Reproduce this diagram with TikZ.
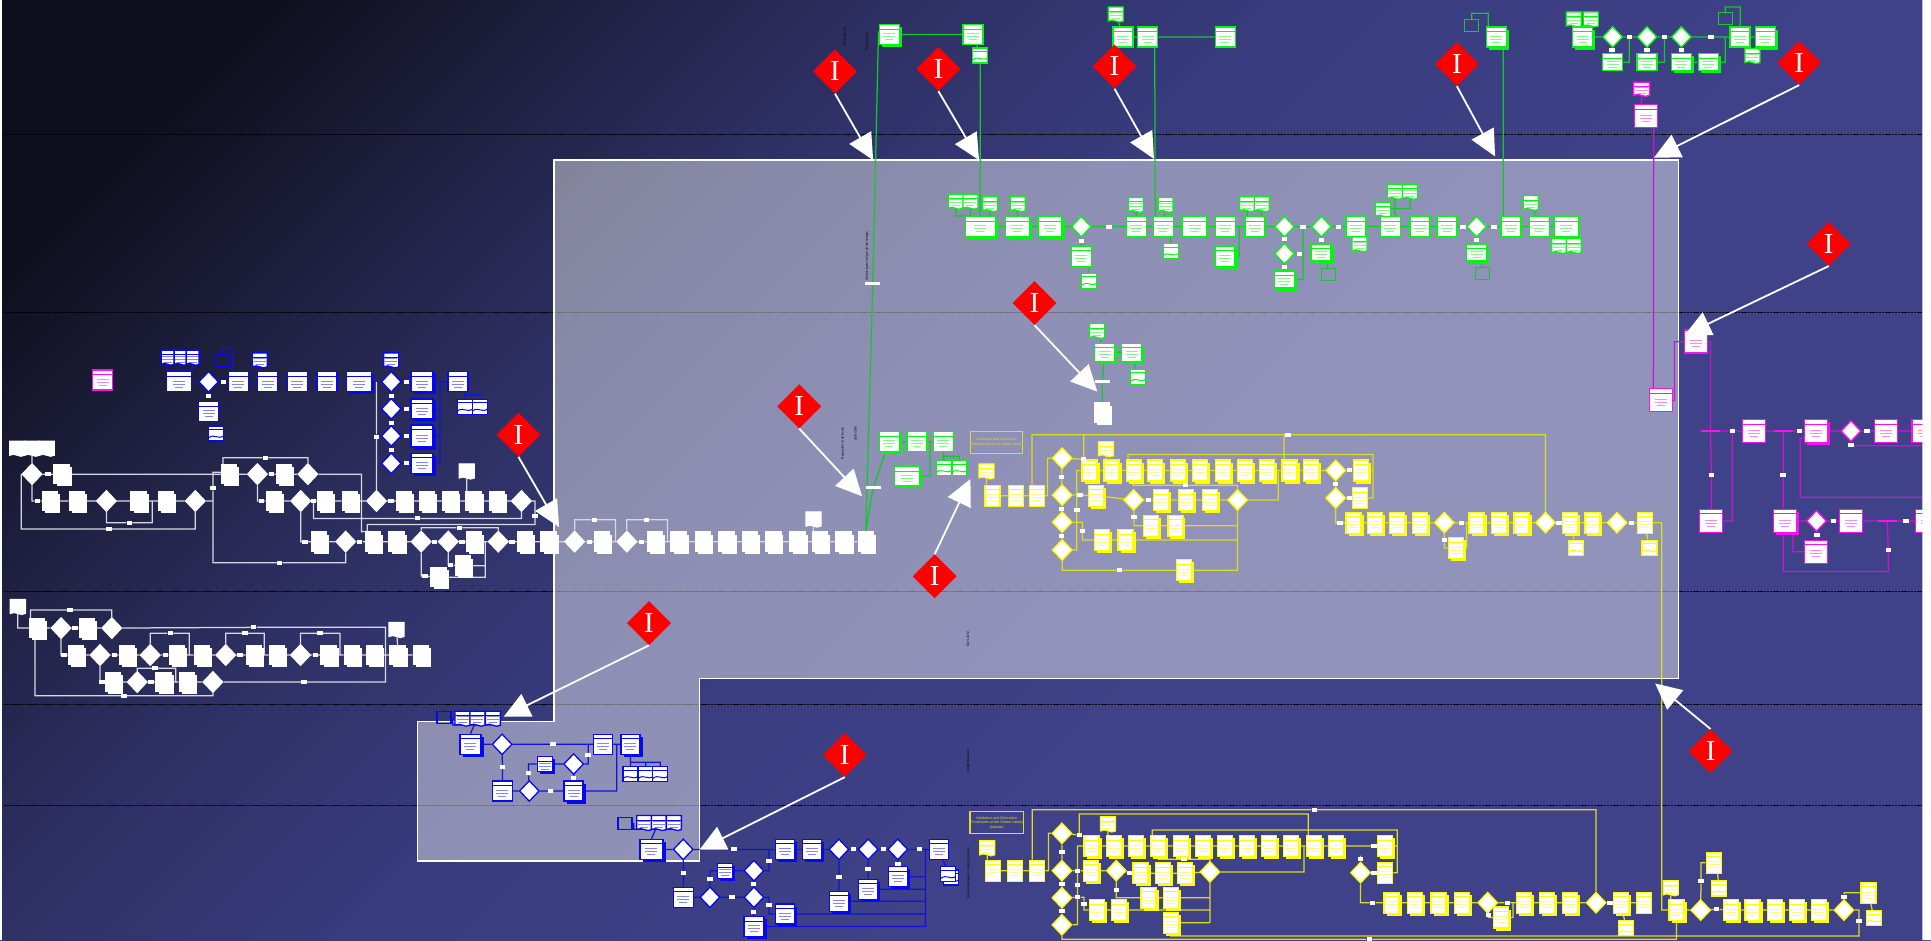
\documentclass[tikz,border=0pt]{standalone}
\usepackage{fontspec}
\setmainfont{Liberation Sans}
\newfontfamily\markfont{Liberation Serif}
\usetikzlibrary{arrows.meta, calc, shadows, shapes.geometric, shapes.symbols}
\definecolor{flowgreen}{HTML}{00F810}
\definecolor{flowblue}{HTML}{0808F0}
\definecolor{flowyellow}{HTML}{FFFF00}
\definecolor{flowpink}{HTML}{FF10F0}
\definecolor{wiregreen}{HTML}{14C82C}
\definecolor{wireblue}{HTML}{1212D8}
\definecolor{wireyellow}{HTML}{DCDC20}
\definecolor{wirepink}{HTML}{CC14D0}
\definecolor{wirewhite}{HTML}{D8D8E4}
\definecolor{bga}{HTML}{0E0E1C}
\definecolor{bgb}{HTML}{1F2040}
\definecolor{bgc}{HTML}{2E3064}
\definecolor{bgd}{HTML}{383B7C}
\definecolor{bge}{HTML}{3F4288}
\pgfdeclarelayer{wires}
\pgfsetlayers{wires,main}
\pgfdeclarehorizontalshading{bgfade}{100bp}{color(0bp)=(bga); color(21bp)=(bga); color(29bp)=(bgb); color(37bp)=(bgc); color(46bp)=(bgd); color(60bp)=(bge); color(100bp)=(bge)}
\newcommand{\boxface}[1]{%
  \draw[#1,line width=.9pt] ([yshift=-4.5pt]path picture bounding box.north west)
    -- ([yshift=-4.5pt]path picture bounding box.north east);
  \begin{scope}[shift={(path picture bounding box.center)}]
    \draw[#1!50,line width=.5pt] (-6pt,1pt) -- (6pt,1pt) (-6pt,-2pt) -- (6pt,-2pt) (-4pt,-5pt) -- (4pt,-5pt);
  \end{scope}}
\newcommand{\waveface}[1]{%
  \draw[#1,line width=.9pt] ([yshift=-3.5pt]path picture bounding box.north west)
    -- ([yshift=-3.5pt]path picture bounding box.north east);
  \draw[#1,line width=1pt] ([yshift=3pt]path picture bounding box.south west)
    .. controls +(6pt,5pt) and +(-6pt,-4pt) .. ([yshift=5pt]path picture bounding box.south east);}
\newcommand{\setnodes}[2]{\foreach \n/\x/\y in {#2} \node[#1] (\n) at (\x,\y) {};}
\newcommand{\setwires}[2]{\begin{pgfonlayer}{wires}\draw[wire=#1] #2;\end{pgfonlayer}}
\tikzset{
  box/.style={rectangle, draw=#1, fill=white, line width=1.3pt, inner sep=0pt,
    minimum width=20pt, minimum height=20pt, path picture={\boxface{#1}}},
  sbox/.style={box=#1, drop shadow={shadow xshift=2.6pt, shadow yshift=-2.6pt, opacity=1, fill=#1}},
  doc/.style={tape, tape bend top=none, tape bend bottom=out and in, tape bend height=2pt,
    draw=#1, fill=white, line width=1.3pt, inner sep=0pt, minimum width=15pt, minimum height=15pt,
    path picture={\boxface{#1}}},
  wave/.style={rectangle, draw=#1, fill=white, line width=1.3pt, inner sep=0pt,
    minimum width=15pt, minimum height=15pt, path picture={\waveface{#1}}},
  dia/.style={diamond, draw=#1, fill=white, line width=1.3pt, inner sep=0pt,
    minimum width=20pt, minimum height=21pt},
  bin/.style={rectangle, draw=#1, line width=1.1pt, inner sep=0pt, minimum width=14pt, minimum height=12pt},
  bar/.style={rectangle, fill=#1, inner sep=0pt, minimum width=19pt, minimum height=1.6pt},
  tag/.style={rectangle, fill=white, inner sep=0pt, minimum width=5.5pt, minimum height=4pt},
  wire/.style={draw=#1, line width=1.25pt},
  wnode/.style={sbox=white, minimum width=15pt, minimum height=19pt},
  ynode/.style={sbox=flowyellow, minimum width=15pt, minimum height=21pt},
  yplain/.style={box=flowyellow, minimum width=15pt, minimum height=21pt},
  ttl/.style={rectangle, draw=wireyellow, line width=1.2pt, text=wireyellow, align=center,
    font=\fontsize{3.7}{4.4}\selectfont, inner sep=0pt, minimum width=52pt, minimum height=22pt},
  vlabel/.style={rotate=90, text=black, font=\fontsize{3.2}{3.2}\selectfont, inner sep=0pt},
  imark/.style={diamond, fill=red, text=white, inner sep=0pt, minimum width=44pt, minimum height=44pt,
    font=\markfont\fontsize{29}{29}\selectfont},
  pointer/.style={-{Triangle[length=26pt,width=25pt]}, draw=white, fill=white, line width=1.8pt},
  lane/.style={draw=black, line width=1.1pt, dash pattern=on 2.4pt off .8pt}
}
\begin{document}
\begin{tikzpicture}[x=1.2315pt,y=-1.2315pt]
  \useasboundingbox (0,0) rectangle (1568,763.3);
  \begin{pgfonlayer}{wires}
    \shade[shading=bgfade, shading angle=-45] (-2,-2) rectangle (1570,766);
    \foreach \y in {109,254,480,572,654} \draw[lane] (3,\y) -- (1561,\y);
    \draw[draw=white, fill=white, fill opacity=.43, line width=1.6pt]
      (450,130) -- (1363,130) -- (1363,551) -- (568,551) -- (568,699) -- (339,699) -- (339,586) -- (450,586) -- cycle;
  \end{pgfonlayer}

  \setnodes{sbox=flowgreen}{ga/722/28}
  \setnodes{box=flowgreen}{gb/790/28,ge/912/30,gf/932/30,gg/995/30}
  \setnodes{wave=flowgreen}{gc/796/45}
  \setnodes{doc=flowgreen}{gd/906/11}
  \setnodes{sbox=flowgreen,minimum width=30pt}{gr1/796/184}
  \setnodes{sbox=flowgreen,minimum width=24pt}{gr2/826/184,gr3/852.6/184}
  \setnodes{box=flowgreen}{gr4/922.8/184,gr5/944.5/184,gr7/995/184,gr8/1019/184,gr9/1101/184,gr10/1129/184,gr11/1153/184,gr12/1175/184,gr13/1227/184,gr14/1250/184}
  \setnodes{box=flowgreen,minimum width=25pt}{gr6/970/184,gr15/1272/184}
  \setnodes{dia=flowgreen}{gq1/878/184,gq2/1043/184,gq3/1073/184,gq4/1199/184,gq5/1043/206}
  \setnodes{tag}{rt1/900.7/184,rt2/1058/184,rt3/1087/184,rt4/1188/184,rt5/1213/184,gv1/878/196,gv2/1043/194,gv3/1055/206,gv4/1043/216.5,gv5/1073/195,gv6/1199/195}
  \setnodes{doc=flowgreen}{gt1/776/163,gt2/788/163,gt3/804/165,gt4/826.5/165,gt5/922.5/165.6,gt6/946.5/165.6,gt7/1012.7/165,gt8/1024.6/165,gt9/1132.7/155,gt10/1145/155,gt11/1123/169.4,gt12/1104/197.6,gt13/1243/164,gt14/1266/199,gt15/1278/199}
  \setnodes{box=flowgreen}{gu1/878/208}
  \setnodes{sbox=flowgreen}{gu4/994.7/208}
  \setnodes{sbox=flowgreen,minimum height=17pt}{gu5/1043/227,gu6/1072.7/205,gu7/1199/205}
  \setnodes{wave=flowgreen}{gu2/884.5/228,gu3/950.6/204}
  \setnodes{bin=wiregreen}{gb1/1078.5/223,gb2/1204/222,gb3/1195/21,hbin/1401/15}
  \setnodes{sbox=flowgreen}{gx/1215/30,gy1/722/358.6}
  \setnodes{box=flowgreen}{gy2/744.5/358.6,gy3/766/358.6}
  \setnodes{sbox=flowgreen,minimum width=25pt,minimum height=19pt}{gy4/736.6/386.5}
  \setnodes{wave=flowgreen}{gy5/766.5/380,gy6/779/380,gz4/924/306}
  \setnodes{doc=flowgreen}{gz1/891/268}
  \setnodes{sbox=flowgreen,minimum height=18pt}{gz2/897/286,gz3/919/286}
  \setnodes{tag,minimum width=15pt,minimum height=3pt}{gz5/895/310,gs1/708.7/230.6,gs2/709/396}
  \setnodes{wnode}{gz6/895/335}
  \setnodes{doc=flowgreen}{hd1/1278/15,hd2/1291.7/15,hd3/1423/44.7}
  \setnodes{sbox=flowgreen}{hb1/1285/30,hb3/1433.5/30}
  \setnodes{box=flowgreen}{hb2/1413/30}
  \setnodes{dia=flowgreen}{hq1/1309.5/30,hq2/1337.4/30,hq3/1365.3/30}
  \setnodes{tag}{ht1/1323/30,ht2/1351.5/30,ht3/1389.4/30,hv1/1309/40.6,hv2/1337.4/40.6,hv3/1365.3/40.6}
  \setnodes{box=flowgreen,minimum height=17pt}{hc1/1309.5/50.6,hc2/1337.4/50.6}
  \setnodes{sbox=flowgreen,minimum height=17pt}{hc3/1365.3/50.6,hc4/1387.2/50.6}

  \setwires{wiregreen}{(ga)--(gb) (gb)--(gc) (gd)--(ge)--(gf)--(gg)
    (gc)--(gc |- gr1.north) ([xshift=7pt]gf.south)--([xshift=-8pt]gr5.north)
    (gr1)--(gr2)--(gr3)--(gq1)--(rt1)--(gr4)--(gr5)--(gr6)--(gr7)--(gr8)--(gq2)--(rt2)--(gq3)--(rt3)--(gr9)--(gr10)--(gr11)--(gr12)--(rt4)--(gq4)--(rt5)--(gr13)--(gr14)--(gr15)
    (gt1.south) |- (gt2 |- gr1.north) (gt2)--(gt2 |- gr1.north) (gt3)--(gt3 |- gr1.north) (gt4)--(gr2) (gt5)--(gr4) (gt6)--(gr5)
    (gt7)--(gt7 |- gr8.north) (gt8)--(gt8 |- gr8.north) (gt9)--(gt9 |- gr10.north) (gt10) |- (gt9 |- gt11) (gt11)--(gt9 |- gt11)
    (gr9)--(gt12) (gt13)--(gr14) (gt14)--(gt14 |- gr15.south) (gt15)--(gt15 |- gr15.south)
    (gq1)--(gv1)--(gu1) ([xshift=7pt]gu1.south)--(gu2) (gu3)--(gu3 |- gr5.south)
    (gu4) -| ($(gr7)!.47!(gr8)$) (gq2)--(gv2)--(gq5)--(gv4)--(gu5) (gq5)--(gv3) (gu5) -| (rt2) (gv3)--(rt2 |- gv3)
    (gq3)--(gv5)--(gu6) ([xshift=6pt]gu6.south)--(gb1) (gq4)--(gv6)--(gu7) ([xshift=5pt]gu7.south)--(gb2)
    (gb3.north) -- ++(0,-5) -| ([xshift=-8pt]gx.north) ([xshift=7pt]gx.south)--([xshift=7pt]gx.south |- rt5)
    (gy1)--(gy2)--(gy3) (gy4) -| ($(gy2)!.5!(gy3)$) (gy3)--(gy3 |- gy5.north) (gy5.north) -- ++(0,-3) -| (gy6.north)
    (gz1)--(gz2) (gz2)--(gz3)--(gz4) (gz2)--(gz5)--(gz6)
    (hb1)--(hq1)--(ht1)--(hq2)--(ht2)--(hq3)--(ht3)--(hb2)--(hb3) (hb2)--(hd3) (hd1)--(hb1) (hd2)--(hb1)
    (hq1)--(hv1)--(hc1) (hq2)--(hv2)--(hc2) (hq3)--(hv3)--(hc3) (hc3)--(hc4)
    (hc1) -| (ht1) (hc2) -| (ht2) (hc4) -| (hbin |- ht3) (hbin.north) -- ++(0,-4) -| (hb2.north)}

  \setnodes{box=flowblue}{bb2/193.5/310,bb3/217.3/310,bb4/241.4/310,bb5/265.5/310,bb8/371.8/310,bb12/169.4/334.3}
  \setnodes{box=flowblue,minimum width=25pt}{bb1/145.3/310}
  \setnodes{sbox=flowblue,minimum width=25pt}{bb6/291.5/310}
  \setnodes{sbox=flowblue,minimum width=22pt}{bb7/342.6/310,bb9/342.6/332,bb11/342.6/376.3}
  \setnodes{sbox=flowblue,minimum width=22pt,minimum height=22pt}{bb10/342.6/354}
  \setnodes{dia=flowblue}{bq1/169.4/310,bq2/317.7/310,bq3/317.7/332,bq4/317.7/354,bq5/317.7/376.3}
  \setnodes{doc=flowblue,minimum width=13pt}{bd1/136.1/289.7,bd2/146.7/289.7,bd3/156.4/289.7}
  \setnodes{doc=flowblue}{bd4/211/291.8,bd5/317.7/291.8}
  \setnodes{wave=flowblue}{bw1/377.5/330.2,bw2/389.7/330.2,bw3/175.4/352}
  \setnodes{bin=flowblue}{bbin/180.8/292.4}
  \setnodes{tag}{bt1/181.3/310,bt2/169.4/321.6,bt3/330/310,bt4/330/332,bt5/330/354,bt6/330/376.3,bt7/317.7/321.6,bt8/317.7/343.2,bt9/317.7/365}
  \coordinate (bbus) at ($(bb7)!.5!(bb8)$);
  \setwires{wireblue}{(bb1)--(bq1)--(bt1)--(bb2)--(bb3)--(bb4)--(bb5)--(bb6)--(bq2)--(bt3)--(bb7)--(bb8)
    (bq1)--(bt2)--(bb12) ([xshift=7pt]bb12.south)--(bw3) (bd5)--(bq2)--(bt7)--(bq3)--(bt8)--(bq4)--(bt9)--(bq5)
    (bq3)--(bt4)--(bb9) (bq4)--(bt5)--(bb10) (bq5)--(bt6)--(bb11)
    (bb11) -| (bbus) (bb10)--(bbus |- bb10) (bb9)--(bbus |- bb9)
    (bd1.south) |- (bd2 |- bb1.north) (bd3.south) |- (bd2 |- bb1.north) (bd2)--(bd2 |- bb1.north)
    (bbin.north) -- ++(0,-5) -| ([xshift=-6pt]bb2.north) (bd4)--(bd4 |- bb3.north)
    (bb8.south -| bw1)--(bw1.north) (bw1.north) -- ++(0,-3) -| (bw2.north)}

  \setnodes{sbox=flowblue,minimum width=21pt}{ub1/382/604.4}
  \setnodes{box=flowblue,minimum width=19pt}{ub2/489.8/604.4}
  \setnodes{sbox=flowblue,minimum width=19pt}{ub3/511.9/604.4,ub6/465.8/642.3}
  \setnodes{sbox=flowblue,minimum width=15pt,minimum height=15pt}{ub4/442.3/620.4}
  \setnodes{box=flowblue}{ub5/408/642.3}
  \setnodes{dia=flowblue}{uq1/407.7/604.4,uq2/465.8/620.4,uq3/429.8/642.3}
  \setnodes{doc=flowblue}{ud1/375.6/582.8,ud2/387.7/582.8,ud3/400.2/582.8}
  \setnodes{bin=flowblue}{ubin1/360.5/582.8}
  \setnodes{wave=flowblue}{uw1/511.9/628.5,uw2/524.3/628.5,uw3/536.2/628.5}
  \setnodes{tag}{ut1/448.9/604.4,ut2/477.6/613,ut3/465.8/631.5,ut4/429.2/628,ut5/408/623,ut6/447.2/642.3}
  \setwires{wireblue}{(ub1)--(uq1)--(ut1)--(ub2)--(ub3) (uq1)--(ut5)--(ub5)--(uq3)--(ut6)--(ub6)
    (uq3)--(ut4) |- (ub4) (ub4)--(uq2) (uq2) -| (ut2) (ut2) |- (ub2) (uq2)--(ut3)--(ub6)
    (ub6) -| ($(ub2)!.5!(ub3)$) (ub3)--(uw1) (uw1.north) -- ++(0,-3) -| (uw3.north) (uw2.north) -- ++(0,-3)
    (ubin1.east) -- ++(1,0) |- (ud3.south) (ud1)--(ud1 |- ud3.south) (ud2)--(ub1.north)}

  \setnodes{sbox=flowblue,minimum width=23pt}{vb1/529/689.7}
  \setnodes{sbox=flowblue,minimum width=19pt}{vb2/637.2/689.7,vb3/659.2/689.7,vb7/637.2/742.2,vb9/681.2/731.9,vb10/705/722,vb11/729/711.9}
  \setnodes{box=flowblue,minimum width=19pt}{vb4/762.7/689.7}
  \setnodes{sbox=flowblue,minimum width=15pt,minimum height=15pt}{vb5/588.7/707}
  \setnodes{box=flowblue}{vb6/554.8/728.6}
  \setnodes{sbox=flowblue}{vb8/612.2/752.4}
  \setnodes{dia=flowblue}{vq1/554.8/689.7,vq2/681.2/689.7,vq3/705/689.7,vq4/729/689.7,vq5/612.2/707,vq6/576.5/728.6,vq7/612.2/728.6}
  \setnodes{doc=flowblue}{vd1/523.2/667.5,vd2/535/667.5,vd3/547.2/667.5}
  \setnodes{bin=flowblue}{vbin/507.5/668.6}
  \setnodes{wave=flowblue}{vw2/772.5/712.5,vw1/770/709.7}
  \setnodes{tag}{vt1/596.2/689.7,vt2/693.1/689.7,vt3/717.5/689.7,vt4/746.5/689.7,vt5/624.4/698.9,vt6/576.5/713.5,vt7/612/717.5,vt8/555/709,vt9/594.2/728.6,vt10/624.4/735,vt11/612/740.3,vt12/681.2/711.9,vt13/705/706,vt14/729/701.6}
  \coordinate (vbus) at ($(vt4)+(5,0)$);
  \setwires{wireblue}{(vb1)--(vq1)--(vt1)--(vb2)--(vb3)--(vq2)--(vt2)--(vq3)--(vt3)--(vq4)--(vt4)--(vb4)
    (vq1)--(vt8)--(vb6)--(vq6)--(vt9)--(vq7) (vq6)--(vt6) (vt6) |- (vb5) (vb5)--(vq5) (vq5) -| (vt5) (vt5) |- (vb2)
    (vq5)--(vt7)--(vq7) (vq7) -| (vt10) (vt10) |- (vb7) (vq7)--(vt11)--(vb8)
    (vq2)--(vt12)--(vb9) (vq3)--(vt13)--(vb10) (vq4)--(vt14)--(vb11)
    (vb8) -| (vbus) (vb7)--(vbus |- vb7) (vb9)--(vbus |- vb9) (vb10)--(vbus |- vb10) (vb11)--(vbus |- vb11)
    (vb4)--(vw1) (vbin.east) -- ++(1,0) |- (vd3.south) (vd1)--(vd1 |- vd3.south) (vd2)--(vb1.north)}

  \setnodes{doc=white,minimum width=15pt}{wd1a/14/363.5,wd1b/26/363.5,wd1c/38/363.5,wd2/379/382,wd3/660.6/421,ld1/14.5/492,ld2/322/510.7}
  \setnodes{wnode}{wb1/50/385,wb2/40.6/406.8,wb3/62.4/406.8,wb4/112.5/406.8,wb5/134.9/406.8,wb6/186/385,wb7/230.6/385,wb8/222.4/406.8,wb9/264/406.8,wb10/284/406.8,wb11/328/406.8,wb12/347/406.8,wb13/365.7/406.8,wb14/384.6/406.8,wb15/403.7/406.8,wb20/356/468.8,wb21/376/459.3,wr1/259/439.8,wr2/303/439.8,wr3/322/439.8,wr4/385/439.8,wr5/426.3/439.8,wr6/445.5/439.8,wr7/489/439.8,wr8/532/439.8,wr9/551/439.8,wr10/571/439.8,wr11/590/439.8,wr12/609/439.8,wr13/628/439.8,wr14/647.6/439.8,wr15/666/439.8,wr16/685/439.8,wz/703/439.8,lb1/30/510,lb2/70.5/510,lc1/61.5/531.9,lc2/103/531.9,lc3/144/531.9,lc4/163.9/531.9,lc5/206/531.9,lc6/224.8/531.9,lc7/266.8/531.9,lc8/285.7/531.9,lc9/304/531.9,lc10/322.8/531.9,lc11/341.6/531.9,le1/92/553.8,le2/132.8/553.8,le3/151.7/553.8}
  \setnodes{dia=white}{wq1/26/385,wq2/86.4/406.8,wq3/158.6/406.8,wq4/209/385,wq5/250/385,wq6/244.2/406.8,wq7/305.7/406.8,wq8/423.4/406.8,wq9/280.7/439.8,wq10/342/439.8,wq11/364/439.8,wq12/404.6/439.8,wq13/466.6/439.8,wq14/509/439.8,lq1/49.6/510,lq2/90.8/510,lq3/81.2/531.9,lq4/122/531.9,lq5/183.3/531.9,lq6/172.9/553.8,lq7/244/531.9,lq8/111.4/553.8}
  \setnodes{tag}{wt1/39/385,wt2/30.5/406.8,wt3/105/424.4,wt4/88.5/429.5,wt5/173/396.5,wt6/227/457,wt7/220.4/385,wt8/215.5/371.6,wt9/212.3/406.8,wt10/254.6/406.8,wt11/317.6/406.8,wt12/339/421,wt13/434.5/419,wt14/247.7/439.8,wt15/292/439.8,wt16/353/439.8,wt17/375/439.8,wt18/415.6/439.8,wt19/478.5/439.8,wt20/521/439.8,wt21/373/428.5,wt22/345/467.7,wt23/366/458.8,wt24/482.6/422,wt25/525/422,wtv/305.7/354.6,lt1/61/510,lt2/57/495.3,lt3/206/509.4,lt4/247/553.8,lt5/52/531.9,lt6/92.8/531.9,lt7/134.3/531.9,lt8/195/531.9,lt9/256/531.9,lt10/138.3/514.3,lt11/199/514.3,lt12/260/514.3,lt13/83/553.8,lt14/122.7/553.8,lt15/126/542.7,lt16/100.6/564.9}
  \setwires{wiregreen}{([yshift=3pt]ga.west)--(gs1)--(wz.north) (gy1)--(gs2)--(wz.north)}
  \setwires{wirewhite}{(wd1b)--(wq1) (wq1)--(wt1)--(wb1)--(wb6)--(wq4)--(wt7)--(wb7)--(wq5)
    (wq1) |- (wt2) (wt2)--(wb2)--(wb3)--(wq2)--(wb4)--(wb5)--(wq3)
    (wq2.south) |- (wt3) (wt3) -| ($(wb4)!.5!(wb5)$) (wq1.west) |- (wt4) (wt4) -| (wq3.south)
    (wq3) -| (wt5) (wt5) |- ([yshift=2pt]wb6.west) (wt5) |- (wt6) (wt6) -| (wq9.south)
    ([xshift=-6pt]wb6.north) |- (wt8) (wt8) -| (wq5.north)
    (wq5) -| ($(wq5)+(43.5,46.7)$) -- ([xshift=-2pt]wr2.north)
    (wq4.south) |- (wt9) (wt9)--(wb8)--(wq6)--(wt10)--(wb9)--(wb10)--(wq7)--(wt11)--(wb11)--(wb12)--(wb13)--(wb14)--(wb15)--(wq8)
    (wt10) |- (wt12) (wt12) -| (wq8.south) (wq8) -| (wt13) (wt13) -- ++(0,6.8) -| ([xshift=-6pt]wr2.north)
    (wd2)--(wd2 |- wb14.north) (wq7)--(wtv)--(wtv |- bb6)
    (wq6) |- (wt14) (wt14)--(wr1)--(wq9)--(wt15)--(wr2)--(wr3)--(wq10)--(wt16)--(wq11)--(wt17)--(wr4)--(wq12)--(wt18)--(wr5)--(wr6)--(wq13)--(wt19)--(wr7)--(wq14)--(wt20)--(wr8)--(wr9)--(wr10)--(wr11)--(wr12)--(wr13)--(wr14)--(wr15)--(wr16)--(wz)
    (wq10.north) |- (wt21) (wt21) -| (wq12.north) (wq10.south) |- (wt22) (wt22)--(wb20) (wq11.south) |- (wt23) (wt23)--(wb21)
    (wb20) -| ($(wr4)+(9,0)$) (wb21)--($(wr4)+(9,19.5)$)
    (wq13.north) |- (wt24) (wt24) -| ($(wr7)+(10.7,0)$) (wq14.north) |- (wt25) (wt25) -| ($(wr8)+(10,0)$)
    (wd3)--(wd3 |- wr15.north)
    (ld1) |- (lb1) (lb1)--(lq1)--(lt1)--(lb2)--(lq2)--(lt3) ([xshift=-6.5pt]lb1.north) |- (lt2) (lt2) -| (lq2.north)
    (lt3) -| ($(lt4)+(66,0)$) -- (lt4)--(lq6) (lq1.south) |- (lt5)
    (lt5)--(lc1)--(lq3)--(lt6)--(lc2)--(lq4)--(lt7)--(lc3)--(lc4)--(lq5)--(lt8)--(lc5)--(lc6)--(lq7)--(lt9)--(lc7)--(lc8)--(lc9)--(lc10)--(lc11)
    (lq4.north) |- (lt10) (lt10) -| ($(lc3)+(9.7,0)$) (lq5.north) |- (lt11) (lt11) -| ($(lc5)+(8.6,0)$) (lq7.north) |- (lt12) (lt12) -| ($(lc7)+(9.2,0)$)
    (ld2)--(lc10.north) (lq3.south) |- (lt13) (lt13)--(le1)--(lq8)--(lt14)--(le2)--(le3)--(lq6)
    (lq8.north) |- (lt15) (lt15) -| ($(le2)+(9.9,0)$) ([xshift=-2pt]lb1.south) |- (lt16) (lt16) -| (lq6.south)}

  \node[ttl] (yl) at (809,359) {Validation and Derivation\\Procedures at the Study Level};
  \node[ttl] (zl) at (809.3,668) {Validation and Derivation\\Procedures at the Global Library\\(tabular)};
  \setnodes{doc=flowyellow}{yd1/801/382,yd2/898/364,zd1/801.7/688,zd2/899.7/668.6,zd3/1356.6/720.5}
  \setnodes{yplain}{yb1/806/402.5,yb2/825/402.5,yb3/842/402.5,y22/1104.3/404.4,y32/1335.5/424.4,za1/806.3/707,za2/824.4/707,za3/842.3/707,z23/1124.8/708.6,z32/1335/733,z35/1391.5/700.5,z41/1517.3/725}
  \setnodes{ynode}{y1/884.6/382,y2/902.5/382,y3/920.8/382,y4/938/382,y5/956.4/382,y6/974.4/382,y7/993/382,y8/1010.7/382,y9/1029/382,y10/1047/382,y11/1064.3/382,y12/1105/382,y13/890/402.5,y14/942.5/406,y15/962.8/406,y16/982.5/406,y17/934.7/427,y18/954.4/427,y19/894.6/438.5,y20/914/438.5,y21/961.6/463,y23/1099/424.4,y24/1116.5/424.4,y25/1134.5/424.4,y26/1152.8/424.4,y27/1199/424.4,y28/1217/424.4,y29/1235.4/424.4,y30/1275/424.4,y31/1293/424.4,y33/1182/445}
  \setnodes{ynode}{z1/886.4/687,z2/904.6/687,z3/922.4/687,z4/940.5/687,z5/958.7/687,z6/977/687,z7/994.7/687,z8/1012.8/687,z9/1030.7/687,z10/1048.3/687,z11/1066.7/687,z12/1084.8/687,z13/1124.8/687,z14/886/707,z15/926.2/709,z16/944.3/709,z17/962.2/709,z18/932.7/729,z19/950.6/729,z20/890.5/739,z21/908.6/739,z22/950.6/749.2,z24/1130/733,z25/1149/733,z26/1168/733,z27/1187/733,z28/1237.5/733,z29/1256.4/733,z30/1275/733,z31/1316/733,z33/1219/745,z34/1361.4/739,z36/1405.3/739,z37/1423/739,z38/1441.3/739,z39/1459.4/739,z40/1477.3/739}
  \setnodes{dia=flowyellow}{yq1/862.5/372,yq2/862.5/402,yq3/862.5/424,yq4/862.5/446.6,yq5/1084.6/382,yq6/920.5/406,yq7/1004.9/406,yq8/1084.6/404.4,yq9/1172.8/424.4,yq10/1255/424.4,yq11/1313/424.4,zq1/862.3/676.7,zq2/862.3/707,zq3/862.3/729,zq4/862.3/751,zq5/906.4/707,zq6/982.5/708,zq7/1104.8/708.6,zq8/1208/733,zq9/1296/733,zq10/1381/739,zq11/1497.3/739}
  \setnodes{wave=flowyellow}{y34/1279.5/444.7,y35/1339.3/444.7,zw1/1320.6/753.8,zw2/1395.8/721.4,zw3/1521.6/745.4}
  \setnodes{tag}{ytop/1046/353,yt1/880/373,yt2/877/402,yt3/862/387,yt4/862/413,yt5/862/435,yt6/879/431,yt7/874.4/414,yt8/909/463,yt9/932.6/406,yt10/920.8/420,yt11/962.8/394,yt12/1096/382,yt13/1096/404.4,yt14/1084.6/393,yt15/1088/424.4,yt16/1186.7/424.4,yt17/1266/424.4,yt18/1324.7/424.4,yt19/1172.8/438.8,zt1/1115.7/687,zt2/1115.7/708.6,zt3/1104.8/697.8,zt4/1114.6/733,zt5/1224/733,zt6/1307.3/733,zt7/1208.5/743,zt8/1381.2/715.7,zt9/1394/738.4,zt10/1497.5/728,zt11/1509.5/748,zt12/1067.2/657.5,zt13/961.4/697.8,zt14/1112/762.6,zt15/862.3/692,zt16/862.3/717.8,zt17/862.3/740,zt18/876.4/678,zt19/875/707,zt20/875/718.6,zt21/875/728.6,zt22/880.2/734,zt23/917/708.6,zt24/906.5/722.7}
  \setwires{wireyellow}{(yd1)--(yd1 |- yb1.north) (yb1)--(yb2)--(yb3) (yb3) -| ($(yq1)+(-12,0)$) -- (yq1)
    ([xshift=-5pt]yb3.north) |- (ytop) (ytop) -| (yq10.north) (yq1)--(yt1) (yt1)--(yt1 |- y1.north) (yt1)--(yt1 |- ytop)
    (yq1)--(yt3)--(yq2)--(yt4)--(yq3)--(yt5)--(yq4) (yq2)--(yt2)--(y13) (yq3) -| (yt6) (yt6) |- (y19)
    (yq4) -| (yt7) (yt7) |- (y1) (yq4.south) |- (yt8) (yt8)--(y21) (y21) -| (yq7.south)
    (y1)--(y2)--(y3)--(y4)--(y5)--(y6)--(y7)--(y8)--(y9)--(y10)--(y11)--(yq5)--(yt12)--(y12)
    (yq5)--(yt14)--(yq8)--(yt13)--(y22) (yd2)--(yd2 |- y2.north)
    (y13)--(yq6)--(yt9)--(y14)--(y15)--(y16)--(yq7) (yq7) -| ($(y9)!.5!(y10)$)
    (yq6)--(yt10) (yt10) |- (y17) (y17)--(y18) (y18)--(yq7 |- y18) (y19)--(y20) (y20)--(yq7 |- y20)
    ([xshift=-1pt]y3.south) |- (yt11) (yt11) -| (yq7.north)
    ([xshift=-6pt]y3.north) -- ++(0,-3.8) -| ($(y12)+(9.8,0)$) (y12)--($(y12)+(9.8,0)$) (y22) -| ($(y12)+(9.8,0)$)
    ([xshift=-5.5pt]y10.north)--([xshift=-5.5pt]y10.north |- ytop)
    (yq8) |- (yt15) (yt15)--(y23)--(y24)--(y25)--(y26)--(yq9)--(yt16)--(y27)--(y28)--(y29)--(yq10)--(yt17)--(y30)--(y31)--(yq11)--(yt18)--(y32)
    (yq9)--(yt19) (yt19) |- (y33) (y33) -| ($(y27)+(-8,0)$) (y30)--(y34) (y32)--(y35) (y32) -| ($(z34)+(-12,0)$) -- (z34)
    (zd1)--(zd1 |- za1.north) (za1)--(za2)--(za3) (za3) -| ($(zq1)+(-11,0)$) -- (zq1)
    ([xshift=-5pt]za3.north) |- (zt12) (zt12) -| (zq9.north) (zq1)--(zt15)--(zq2)--(zt16)--(zq3)--(zt17)--(zq4)
    (zq1)--(zt18) (zt18)--(zt18 |- z1.north) (zt18) -- ++(0,-17) -| ($(z11)+(-4.4,0)$)
    (zq2)--(zt19)--(z14) (zq3)--(zt21) (zt21) -| (zt22) (zt22) |- (z20) (zq4) -| (zt20) (zt20) |- (z1)
    (zd2)--(zd2 |- z2.north) (z1)--(z2)--(z3)--(z4)--(z5)--(z6)--(z7)--(z8)--(z9)--(z10)--(z11)--(z12)--(zt1)--(z13)
    (z14)--(zq5)--(zt23)--(z15)--(z16)--(z17)--(zq6) (zq6) -| ($(z10)!.575!(z11)$)
    (zq5)--(zt24) (zt24) |- (z18) (z18)--(z19) (z19)--(zq6 |- z19) (z20)--(z21) (z21)--(zq6 |- z21) (z22)--(zq6 |- z22) (zq6)--(zq6 |- z22)
    (z4.south) |- (zt13) (zt13) -| (zq6.north)
    ([xshift=-6pt]z4.north) -- ++(0,-4) -| ($(z13)+(9.8,0)$) (z13)--($(z13)+(9.8,0)$) (z23) -| ($(z13)+(9.8,0)$)
    (zq7)--(zt3) -- ++(0,-3) (zq7)--(zt2)--(z23) (zq7) |- (zt4) (zt4)--(z24)--(z25)--(z26)--(z27)--(zq8)--(zt5)--(z28)--(z29)--(z30)--(zq9)--(zt6)--(z31)--(z32)
    (zq8)--(zt7) (zt7) |- (z33) (z33) -| ($(z28)+(-9,0)$) (z31)--(zw1) (zq4.south) |- (zt14) (zt14) -| (z34.south)
    (zq11) -| (zt11) (zt11) -- ++(0,12) -| (z22.south)
    (z34)--(zq10)--(zt9)--(z36)--(z37)--(z38)--(z39)--(z40)--(zq11) (zq10)--(zt8) (zt8) |- (z35)
    ([xshift=4pt]z35.south)--(zw2) (zq11)--(zt10) (zt10) |- (z41) (z41)--(zw3) (zd3)--(zd3 |- z34.north)}

  \setnodes{box=flowpink,minimum width=20pt}{pb/83.3/308.6}
  \setnodes{doc=flowpink,minimum width=16pt,minimum height=14pt}{md1/1333/71.7}
  \setnodes{box=flowpink,minimum width=23pt,minimum height=23pt}{mb1/1336.3/94.2,mb2/1348.7/325,mb3/1377/277.4,mb4/1424/350,mb6/1531.4/350,mb7/1562/350,mb8/1389.6/423,mb10/1503.3/423,mb11/1565/423,mb12/1474.6/448}
  \setnodes{sbox=flowpink,minimum width=23pt,minimum height=23pt}{mb5/1474.6/350,mb9/1449.7/423}
  \setnodes{dia=flowpink}{mq1/1503/350,mq2/1475/423}
  \setnodes{bar=flowpink}{mbar1/1389/350,mbar2/1448/350,mbar3/1532.5/423}
  \setnodes{tag}{mt1/1406.6/350,mt2/1461/350,mt3/1516.2/350,mt4/1389.6/385.7,mt5/1488.7/423,mt6/1547.6/423,mt7/1475.3/434.7,mt8/1448/385.7,mt9/1503/361,mt10/1533.3/446.6}
  \setwires{wirepink}{(md1)--(md1 |- mb1.north) ([xshift=8pt]mb1.south)--([xshift=-7.6pt]mb2.north)
    (mb2) -- ++(11,0) |- (mb3) (mb3) -| (mbar1) (mbar1)--(mt1)--(mb4)--(mbar2)--(mt2)--(mb5)--(mq1)--(mt3)--(mb6)--(mb7)
    (mbar1)--(mt4)--(mb8) (mb8) -| (mt1) (mbar2)--(mt8)--(mt8 |- mb9.north) (mb9)--(mq2)--(mt5)--(mb10)--(mbar3)--(mt6)--(mb11)
    (mq2)--(mt7)--(mb12) ([xshift=7.6pt]mb9.south) |- (mb12) (mbar3)--(mt10) (mt10) -- ++(0,17.5) -| ([xshift=-2pt]mb9.south)
    (mq1)--(mt9) (mt9) -- ++(0,1) -- ++(70,0) ([yshift=-7pt]mb5.west) -- ++(-3,0) -- ++(0,48) -- ++(120,0)}

  \node[vlabel] (va) at (704,34) {Project Lead};
  \node[vlabel] (vb) at (686,30) {Project Lead};
  \node[vlabel] (vc) at (704,208) {Global agent will get all the listings};
  \node[vlabel] (vd) at (684.4,360) {Requester at all levels};
  \node[vlabel] (ve) at (694.6,352) {SDS xDM};
  \node[vlabel] (vf) at (786,519) {SDS xDM};
  \node[vlabel] (vg) at (786,618) {Global Reviewer};
  \node[vlabel] (vh) at (786.3,709) {Second Reviewer - Global Librarian};

  \foreach \n/\x/\y/\ex/\ey/\a in {1/678/58/709/130/south,2/762/56/795/130/south,3/905/54/937/129/south,4/1183/52/1214/127/south,
    5/1461/51/1343/128/south,6/1485/198/1368/272/south,7/840/246/891/318/south,8/649/330/700/403/south,9/421/353/454/428/south,
    10/759/468/788/389/north,11/527/506/409/582/south,12/686/613/568/690/south,13/1389/610/1344/555/north} {
    \node[imark] (mark\n) at (\x,\y) {I};
    \coordinate (point\n) at (\ex,\ey);
    \draw[pointer] (mark\n.\a) -- (point\n);
  }
  \fill[white] (1561,0) rectangle (1568,763.3) (0,0) rectangle (1.6,763.3);
\end{tikzpicture}
\end{document}
